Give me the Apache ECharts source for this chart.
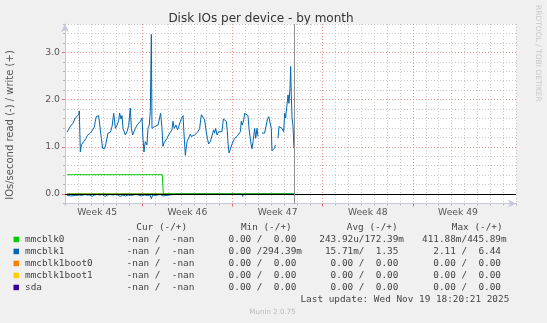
<!DOCTYPE html>
<html><head><meta charset="utf-8">
<script src="https://cdn.jsdelivr.net/npm/echarts@6/dist/echarts.min.js"></script>
<style>html,body{margin:0;padding:0;background:#f0f0f0;overflow:hidden}#c{width:547px;height:323px}</style>
</head><body><div id="c"></div><script>
// x values: days since Monday 3 Nov 2025 (start of Week 45)
const weekLabels = ['Week 45','Week 46','Week 47','Week 48','Week 49'];
const weekCenters = [3.5, 10.5, 17.5, 24.5, 31.5];
const weekStarts = [7, 14, 21, 28];
const yMajorTicks = [0, 1, 2, 3];
const lastSample = 18.77;

const mmcblk1Write = [[1.16,1.31],[1.28,1.31],[1.41,1.43],[1.54,1.39],[1.62,1.50],[1.72,1.46],[1.80,1.61],[1.93,1.64],[2.06,1.68],[2.11,1.76],[2.19,0.89],[2.27,1.04],[2.45,1.11],[2.63,1.18],[2.73,1.24],[2.84,1.22],[2.97,1.29],[3.15,1.36],[3.28,1.42],[3.35,1.54],[3.43,1.64],[3.54,1.61],[3.61,1.66],[3.74,1.64],[3.82,1.18],[3.92,0.97],[4.08,0.96],[4.18,1.08],[4.34,1.29],[4.52,1.31],[4.65,1.43],[4.78,1.71],[4.91,1.39],[5.04,1.46],[5.16,1.55],[5.24,1.71],[5.35,1.59],[5.42,1.66],[5.50,1.39],[5.68,1.25],[5.81,1.32],[5.94,1.45],[6.07,1.82],[6.15,1.39],[6.25,1.25],[6.38,1.25],[6.46,1.39],[6.59,1.46],[6.72,1.50],[6.85,1.54],[6.98,1.61],[7.05,1.18],[7.13,0.89],[7.23,1.11],[7.36,1.04],[7.44,1.39],[7.54,1.46],[7.62,1.75],[7.70,3.38],[7.75,1.39],[7.83,1.36],[7.96,1.43],[8.09,1.39],[8.22,1.46],[8.32,1.46],[8.42,1.71],[8.53,1.39],[8.60,1.01],[8.68,1.08],[8.79,1.11],[8.92,1.18],[9.04,1.25],[9.17,1.29],[9.30,1.36],[9.38,1.54],[9.48,1.39],[9.61,1.46],[9.74,1.36],[9.87,1.39],[10.03,1.60],[10.16,1.66],[10.24,1.25],[10.34,0.82],[10.47,1.11],[10.60,1.15],[10.73,1.27],[10.80,1.22],[10.93,1.24],[11.06,1.25],[11.19,1.29],[11.32,1.32],[11.45,1.39],[11.58,1.68],[11.71,1.68],[11.84,1.57],[11.92,1.39],[11.99,1.27],[12.05,1.18],[12.15,1.06],[12.28,1.11],[12.41,1.15],[12.54,1.36],[12.61,1.29],[12.69,1.39],[12.80,1.25],[12.93,1.32],[13.05,1.29],[13.18,1.32],[13.29,1.59],[13.39,1.61],[13.52,1.54],[13.60,1.32],[13.65,1.08],[13.73,0.87],[13.86,0.97],[13.99,1.08],[14.17,1.18],[14.35,1.22],[14.48,1.25],[14.61,1.32],[14.68,1.54],[14.76,1.46],[14.87,1.57],[14.94,1.71],[15.07,1.69],[15.20,1.66],[15.28,1.39],[15.41,1.11],[15.51,0.96],[15.59,1.11],[15.72,1.39],[15.80,1.18],[15.90,1.39],[15.98,1.22],[16.10,null],[16.29,1.29],[16.49,1.29],[16.62,1.32],[16.70,1.57],[16.81,1.64],[16.93,1.62],[17.01,1.39],[17.06,0.92],[17.19,0.94],[17.27,0.97],[17.32,1.04],[17.42,null],[17.53,1.18],[17.61,1.43],[17.71,1.39],[17.84,1.39],[17.97,1.32],[18.05,1.71],[18.12,1.61],[18.20,1.82],[18.31,2.10],[18.38,1.92],[18.46,2.24],[18.51,2.70],[18.56,2.10],[18.62,1.61],[18.69,1.46],[18.77,0.97]];

const mmcblk1Read = [[1.16,-0.03],[1.30,-0.02],[1.45,-0.04],[1.60,-0.02],[1.80,-0.03],[1.95,-0.01],[2.10,-0.02],[2.30,-0.03],[2.50,-0.01],[2.70,-0.02],[2.90,-0.02],[3.10,-0.05],[3.30,-0.02],[3.50,-0.01],[3.70,-0.02],[3.90,-0.01],[4.10,-0.05],[4.30,-0.02],[4.50,-0.01],[4.70,-0.02],[4.90,-0.01],[5.10,-0.02],[5.30,-0.05],[5.50,-0.02],[5.70,-0.04],[5.90,-0.02],[6.10,-0.03],[6.30,-0.02],[6.50,-0.01],[6.70,-0.02],[6.95,-0.04],[7.15,-0.02],[7.40,-0.03],[7.60,-0.02],[7.70,-0.10],[7.80,-0.02],[8.00,-0.03],[8.20,-0.02],[8.40,-0.01],[8.60,-0.04],[8.70,0],[9.60,0],[9.67,-0.04],[9.74,0],[14.72,0],[14.79,-0.05],[14.86,0],[15.78,0],[15.85,-0.03],[15.92,0],[16.97,0],[17.04,-0.03],[17.11,0],[18.70,0],[18.77,-0.03]];

const mmcblk0Write = [[1.16,0.41],[1.50,0.41],[1.58,0.42],[1.66,0.41],[3.00,0.41],[3.08,0.42],[3.16,0.41],[5.00,0.41],[5.08,0.42],[5.16,0.41],[7.50,0.41],[7.58,0.42],[7.66,0.41],[8.55,0.41],[8.63,0.00],[18.77,0.00]];
const mmcblk0Read = [[1.16,0],[18.77,0]];
const zeroSeries = [[1.16,0],[18.77,0]];

const legendNames = ['mmcblk0','mmcblk1','mmcblk1boot0','mmcblk1boot1','sda'];
const legendColors = ['#00CC00','#0066B3','#FF8000','#FFCC00','#330099'];
const curValues = ['  -nan /  -nan ','  -nan /  -nan ','  -nan /  -nan ','  -nan /  -nan ','  -nan /  -nan '];
const minValues = ['  0.00 /  0.00 ','  0.00 /294.39m','  0.00 /  0.00 ','  0.00 /  0.00 ','  0.00 /  0.00 '];
const avgValues = ['243.92u/172.39m',' 15.71m/  1.35 ','  0.00 /  0.00 ','  0.00 /  0.00 ','  0.00 /  0.00 '];
const maxValues = ['411.88m/445.89m','  2.11 /  6.44 ','  0.00 /  0.00 ','  0.00 /  0.00 ','  0.00 /  0.00 '];
const headers = ['Cur (-/+)','Min (-/+)','Avg (-/+)','Max (-/+)'];

const SANS = 'DejaVu Sans', MONO = 'DejaVu Sans Mono';
const chart = echarts.init(document.getElementById('c'), null, {renderer:'canvas', width:547, height:323});

const lineSeries = (name, data, color, z) => ({
  name, type:'line', data, xAxisIndex:0, yAxisIndex:0, showSymbol:false, symbol:'none',
  connectNulls:false, lineStyle:{color, width:1}, itemStyle:{color}, z, silent:true, animation:false
});

const graphics = [];
graphics.push({type:'text', x:261, y:18.5, style:{text:'Disk IOs per device - by month', font:'12px "DejaVu Sans"', fill:'#333', align:'center', verticalAlign:'middle'}});
graphics.push({type:'text', x:10.5, y:125, rotation:Math.PI/2, style:{text:'IOs/second read (-) / write (+)', font:'10px "DejaVu Sans"', fill:'#555', align:'center', verticalAlign:'middle'}});
graphics.push({type:'text', x:537.5, y:53.3, rotation:-Math.PI/2, style:{text:'RRDTOOL / TOBI OETIKER', font:'7.5px "DejaVu Sans"', fill:'#c8c8c8', align:'center', verticalAlign:'middle'}});
const headerX = [161.7, 266.3, 372.2, 477.2];
headers.forEach((h,i)=>graphics.push({type:'text', x:headerX[i], y:227.3, style:{text:h, font:'9.4px "DejaVu Sans Mono"', fill:'#444', align:'center', verticalAlign:'middle'}}));
const colX = [115.3, 217.3, 319.3, 422];
legendNames.forEach((n,i)=>{
  const y = 239.7 + 12*i;
  graphics.push({type:'rect', shape:{x:13.5, y:y-3, width:5.5, height:5.5}, style:{fill:legendColors[i]}});
  graphics.push({type:'text', x:25, y, style:{text:n, font:'9.4px "DejaVu Sans Mono"', fill:'#444', align:'left', verticalAlign:'middle'}});
  [curValues, minValues, avgValues, maxValues].forEach((arr,j)=>{
    graphics.push({type:'text', x:colX[j], y, style:{text:arr[i], font:'9.4px "DejaVu Sans Mono"', fill:'#444', align:'left', verticalAlign:'middle'}});
  });
});
graphics.push({type:'text', x:509.3, y:299.3, style:{text:'Last update: Wed Nov 19 18:20:21 2025', font:'9.4px "DejaVu Sans Mono"', fill:'#444', align:'right', verticalAlign:'middle'}});
graphics.push({type:'text', x:272.5, y:312, style:{text:'Munin 2.0.75', font:'7.1px "DejaVu Sans"', fill:'#bbb', align:'center', verticalAlign:'middle'}});

const option = {
  animation:false,
  backgroundColor:'#f0f0f0',
  grid:{left:65, top:24, width:451, height:179.5, show:true, backgroundColor:'#ffffff', borderWidth:0},
  xAxis:[
    {type:'value', min:1, max:36, interval:1, position:'bottom',
     axisLine:{show:true, onZero:false, lineStyle:{color:'#c4c8d8', width:1}, symbol:['none','arrow'], symbolSize:[6,8]},
     axisTick:{show:true, length:2, lineStyle:{color:'#b8b8b8'}},
     axisLabel:{show:false},
     splitLine:{show:true, lineStyle:{color:'#c8c8c8', width:1, type:[1,2]}}},
    {type:'value', min:1, max:36, position:'bottom',
     axisLine:{show:false, onZero:false},
     axisTick:{show:true, customValues:weekStarts, length:3, lineStyle:{color:'#e07070'}},
     axisLabel:{show:true, customValues:weekCenters, margin:5, color:'#555', fontFamily:SANS, fontSize:9.2,
       formatter:v=>{const k=weekCenters.findIndex(c=>Math.abs(c-v)<1e-6); return k>=0?weekLabels[k]:'';}},
     splitLine:{show:true, lineStyle:{color:'#e89090', width:1, type:[1,2]}}}
  ],
  yAxis:[
    {type:'value', min:-0.2, max:3.6, interval:0.2, position:'left',
     axisLine:{show:true, onZero:false, lineStyle:{color:'#c4c8d8', width:1}, symbol:['none','arrow'], symbolSize:[6,8]},
     axisTick:{show:true, length:2, lineStyle:{color:'#b8b8b8'}},
     axisLabel:{show:false},
     splitLine:{show:true, lineStyle:{color:'#c8c8c8', width:1, type:[1,2]}}},
    {type:'value', min:-0.2, max:3.6, position:'left',
     axisLine:{show:false, onZero:false},
     axisTick:{show:true, customValues:yMajorTicks, length:3, lineStyle:{color:'#e07070'}},
     axisLabel:{show:true, customValues:yMajorTicks, margin:5, color:'#555', fontFamily:SANS, fontSize:9.3,
       formatter:v=>Number(v).toFixed(1)},
     splitLine:{show:true, lineStyle:{color:'#e89090', width:1, type:[1,2]}}}
  ],
  series:[
    lineSeries('sda', zeroSeries, legendColors[4], 2),
    lineSeries('mmcblk1boot1', zeroSeries, legendColors[3], 2),
    lineSeries('mmcblk1boot0', zeroSeries, legendColors[2], 2),
    lineSeries('mmcblk0 read', mmcblk0Read, legendColors[0], 3),
    lineSeries('mmcblk1 read', mmcblk1Read, legendColors[1], 3),
    lineSeries('mmcblk0', mmcblk0Write, legendColors[0], 3),
    lineSeries('mmcblk1', mmcblk1Write, legendColors[1], 3),
    {type:'line', data:[], xAxisIndex:0, yAxisIndex:0, z:6, silent:true,
     markLine:{silent:true, symbol:['none','none'], label:{show:false}, animation:false,
       data:[
         {yAxis:0, lineStyle:{color:'#000000', width:1, type:'solid'}},
         {xAxis:lastSample, lineStyle:{color:'#909090', width:1, type:'solid'}}
       ]}}
  ],
  graphic:graphics
};
chart.setOption(option);
</script></body></html>
